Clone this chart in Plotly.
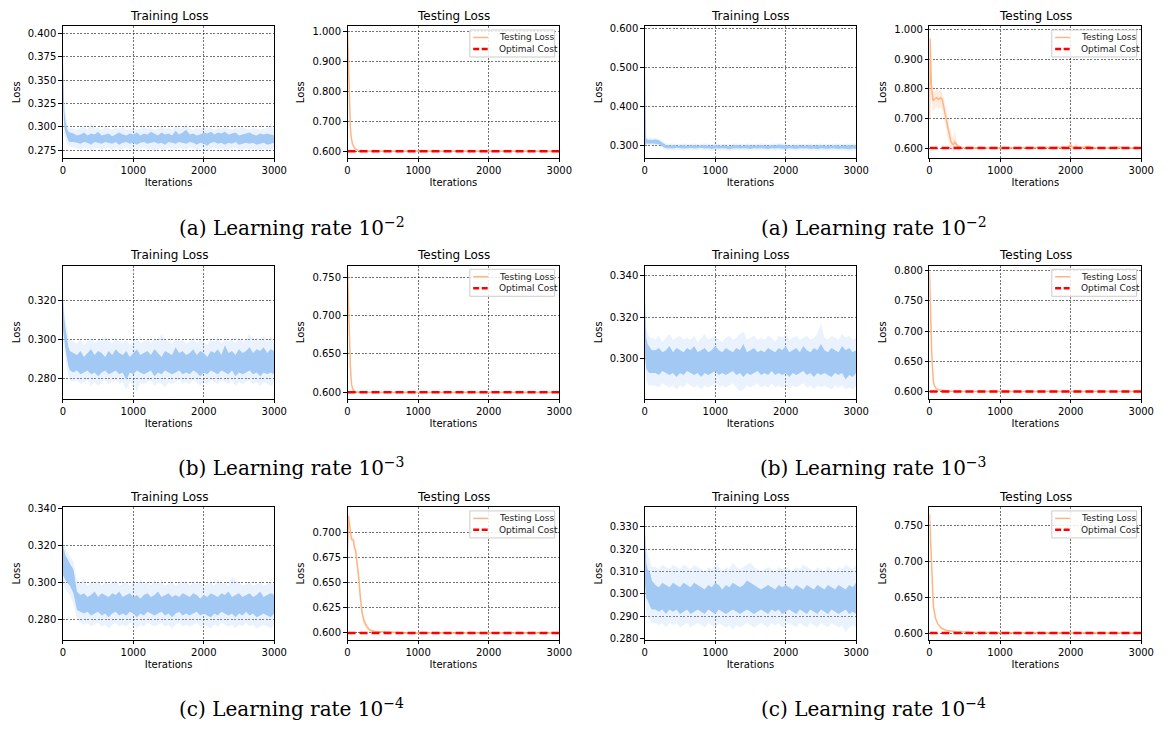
import plotly.graph_objects as go

W, H = 1171, 734

# ---------------------------------------------------------------- data
ITER_TICKS = [0, 1000, 2000, 3000]
OPTIMAL_COST = 0.6
TRAIN_ITERS = [0, 10, 20, 40, 60, 80, 100] + list(range(150, 3001, 50))

# run 1 (left column), learning rate 1e-2
R1_LR2_INNER_HI = [0.372, 0.335, 0.318, 0.305, 0.298, 0.295, 0.294,
    0.293, 0.291, 0.292, 0.294, 0.291, 0.293, 0.292, 0.295, 0.291, 0.292,
    0.293, 0.290, 0.292, 0.294, 0.292, 0.291, 0.293, 0.292, 0.294, 0.291,
    0.293, 0.292, 0.295, 0.293, 0.291, 0.294, 0.292, 0.293, 0.291, 0.296,
    0.292, 0.294, 0.297, 0.292, 0.293, 0.291, 0.292, 0.294, 0.293, 0.295,
    0.292, 0.294, 0.293, 0.295, 0.292, 0.293, 0.294, 0.291, 0.292, 0.293,
    0.294, 0.292, 0.291, 0.293, 0.292, 0.293, 0.292, 0.291]
R1_LR2_INNER_LO = [0.330, 0.310, 0.300, 0.293, 0.288, 0.285, 0.284,
    0.284, 0.283, 0.282, 0.284, 0.283, 0.281, 0.284, 0.283, 0.282, 0.284,
    0.283, 0.282, 0.284, 0.281, 0.283, 0.284, 0.282, 0.283, 0.281, 0.283,
    0.284, 0.282, 0.283, 0.284, 0.282, 0.283, 0.281, 0.284, 0.283, 0.282,
    0.284, 0.283, 0.282, 0.284, 0.283, 0.281, 0.283, 0.282, 0.280, 0.283,
    0.284, 0.282, 0.283, 0.281, 0.283, 0.282, 0.284, 0.281, 0.282, 0.283,
    0.282, 0.283, 0.281, 0.282, 0.283, 0.281, 0.282, 0.283]
R1_LR2_OUTER_HI = [0.401, 0.350, 0.328, 0.312, 0.303, 0.300, 0.299,
    0.298, 0.297, 0.299, 0.300, 0.297, 0.304, 0.298, 0.299, 0.297, 0.300,
    0.298, 0.297, 0.299, 0.298, 0.300, 0.297, 0.298, 0.299, 0.297, 0.298,
    0.300, 0.298, 0.299, 0.297, 0.298, 0.300, 0.298, 0.299, 0.297, 0.302,
    0.298, 0.299, 0.304, 0.298, 0.297, 0.299, 0.298, 0.300, 0.298, 0.299,
    0.297, 0.299, 0.298, 0.300, 0.298, 0.297, 0.299, 0.298, 0.300, 0.298,
    0.297, 0.299, 0.298, 0.297, 0.298, 0.299, 0.303, 0.298]
R1_LR2_OUTER_LO = [0.320, 0.300, 0.292, 0.287, 0.282, 0.280, 0.279,
    0.278, 0.277, 0.276, 0.278, 0.277, 0.275, 0.278, 0.277, 0.276, 0.278,
    0.277, 0.276, 0.278, 0.275, 0.277, 0.278, 0.276, 0.277, 0.275, 0.277,
    0.278, 0.276, 0.277, 0.273, 0.276, 0.277, 0.275, 0.278, 0.277, 0.276,
    0.278, 0.277, 0.276, 0.278, 0.277, 0.275, 0.277, 0.276, 0.274, 0.277,
    0.278, 0.276, 0.277, 0.275, 0.277, 0.276, 0.278, 0.275, 0.276, 0.277,
    0.276, 0.277, 0.275, 0.276, 0.277, 0.275, 0.276, 0.277]
R1_LR2_TEST_ITERS = [0, 10, 20, 30, 40, 50, 70, 100, 150, 200, 3000]
R1_LR2_TEST_LOSS = [0.996, 0.900, 0.800, 0.720, 0.680, 0.650, 0.625, 0.610, 0.603, 0.600, 0.600]

# run 2 (right column), learning rate 1e-2
R2_LR2_INNER_HI = [0.540, 0.330, 0.318, 0.316, 0.315, 0.316, 0.315,
    0.316, 0.314, 0.308, 0.302, 0.301, 0.302, 0.300, 0.301, 0.302, 0.300,
    0.301, 0.302, 0.300, 0.301, 0.302, 0.301, 0.300, 0.302, 0.301, 0.300,
    0.301, 0.299, 0.301, 0.302, 0.301, 0.300, 0.302, 0.301, 0.300, 0.301,
    0.302, 0.301, 0.300, 0.302, 0.301, 0.303, 0.302, 0.301, 0.300, 0.301,
    0.302, 0.301, 0.300, 0.301, 0.302, 0.300, 0.301, 0.302, 0.300, 0.301,
    0.300, 0.302, 0.301, 0.300, 0.301, 0.302, 0.301, 0.302]
R2_LR2_INNER_LO = [0.300, 0.305, 0.306, 0.305, 0.306, 0.305, 0.306,
    0.305, 0.304, 0.298, 0.294, 0.294, 0.293, 0.295, 0.294, 0.293, 0.294,
    0.295, 0.293, 0.294, 0.295, 0.293, 0.294, 0.292, 0.294, 0.293, 0.294,
    0.293, 0.291, 0.293, 0.294, 0.293, 0.294, 0.293, 0.292, 0.294, 0.293,
    0.294, 0.293, 0.292, 0.294, 0.293, 0.294, 0.293, 0.292, 0.294, 0.293,
    0.292, 0.294, 0.293, 0.294, 0.292, 0.293, 0.291, 0.294, 0.293, 0.292,
    0.294, 0.293, 0.292, 0.293, 0.292, 0.291, 0.293, 0.292]
R2_LR2_OUTER_HI = [0.591, 0.345, 0.322, 0.320, 0.319, 0.321, 0.319,
    0.320, 0.318, 0.312, 0.306, 0.305, 0.306, 0.304, 0.305, 0.306, 0.304,
    0.305, 0.306, 0.304, 0.305, 0.306, 0.305, 0.304, 0.306, 0.305, 0.304,
    0.305, 0.303, 0.305, 0.306, 0.305, 0.304, 0.306, 0.305, 0.304, 0.305,
    0.306, 0.305, 0.304, 0.306, 0.305, 0.307, 0.306, 0.305, 0.304, 0.305,
    0.306, 0.305, 0.304, 0.305, 0.306, 0.304, 0.305, 0.306, 0.304, 0.305,
    0.304, 0.306, 0.305, 0.304, 0.305, 0.306, 0.305, 0.306]
R2_LR2_OUTER_LO = [0.295, 0.300, 0.302, 0.301, 0.302, 0.301, 0.302,
    0.301, 0.300, 0.294, 0.290, 0.289, 0.288, 0.290, 0.289, 0.288, 0.289,
    0.290, 0.288, 0.289, 0.290, 0.288, 0.289, 0.286, 0.289, 0.288, 0.289,
    0.288, 0.286, 0.288, 0.289, 0.288, 0.289, 0.288, 0.287, 0.289, 0.288,
    0.289, 0.288, 0.287, 0.289, 0.288, 0.289, 0.288, 0.287, 0.289, 0.288,
    0.287, 0.289, 0.288, 0.289, 0.287, 0.288, 0.286, 0.289, 0.288, 0.287,
    0.289, 0.288, 0.287, 0.288, 0.287, 0.286, 0.288, 0.287]
R2_LR2_TEST_ITERS = [0, 8, 15, 25, 35, 50, 70, 100, 130, 160,
    180, 200, 220, 240, 260, 280, 300, 320, 340, 360,
    380, 400, 450, 500, 800, 1200, 1500, 1850, 1900, 1950,
    2000, 2030, 2080, 2120, 2250, 2300, 2500, 2700, 2750, 3000]
R2_LR2_TEST_LOSS = [0.700, 0.970, 0.920, 0.820, 0.780, 0.760, 0.765, 0.770, 0.765, 0.770,
    0.765, 0.740, 0.720, 0.690, 0.665, 0.640, 0.625, 0.615, 0.612, 0.620,
    0.613, 0.607, 0.602, 0.601, 0.600, 0.601, 0.600, 0.601, 0.603, 0.600,
    0.610, 0.601, 0.604, 0.600, 0.605, 0.601, 0.600, 0.603, 0.600, 0.600]
R2_LR2_TEST_HI = [0.720, 0.990, 0.960, 0.860, 0.810, 0.790, 0.790, 0.800, 0.790, 0.800,
    0.790, 0.770, 0.750, 0.720, 0.700, 0.670, 0.660, 0.640, 0.635, 0.660,
    0.625, 0.615, 0.605, 0.603, 0.601, 0.602, 0.601, 0.602, 0.608, 0.601,
    0.635, 0.603, 0.618, 0.601, 0.612, 0.602, 0.601, 0.606, 0.601, 0.601]
R2_LR2_TEST_LO = [0.680, 0.950, 0.880, 0.780, 0.740, 0.720, 0.730, 0.740, 0.730, 0.740,
    0.730, 0.710, 0.690, 0.660, 0.635, 0.615, 0.595, 0.590, 0.587, 0.590,
    0.600, 0.599, 0.599, 0.599, 0.599, 0.599, 0.599, 0.599, 0.598, 0.599,
    0.595, 0.599, 0.597, 0.599, 0.598, 0.599, 0.599, 0.599, 0.599, 0.599]

# run 1, learning rate 1e-3
R1_LR3_INNER_HI = [0.322, 0.314, 0.311, 0.305, 0.300, 0.296, 0.294,
    0.293, 0.292, 0.294, 0.291, 0.293, 0.295, 0.292, 0.294, 0.293, 0.291,
    0.294, 0.292, 0.295, 0.293, 0.292, 0.294, 0.291, 0.293, 0.295, 0.292,
    0.293, 0.294, 0.292, 0.295, 0.293, 0.291, 0.294, 0.293, 0.292, 0.296,
    0.293, 0.294, 0.292, 0.293, 0.295, 0.292, 0.294, 0.293, 0.291, 0.294,
    0.293, 0.295, 0.292, 0.297, 0.293, 0.294, 0.292, 0.295, 0.293, 0.294,
    0.296, 0.293, 0.295, 0.294, 0.296, 0.293, 0.295, 0.294]
R1_LR3_INNER_LO = [0.305, 0.303, 0.300, 0.294, 0.289, 0.286, 0.284,
    0.283, 0.284, 0.282, 0.283, 0.284, 0.282, 0.283, 0.281, 0.283, 0.284,
    0.282, 0.283, 0.284, 0.282, 0.283, 0.279, 0.283, 0.282, 0.284, 0.283,
    0.282, 0.283, 0.284, 0.281, 0.283, 0.282, 0.284, 0.283, 0.282, 0.283,
    0.284, 0.282, 0.283, 0.282, 0.284, 0.283, 0.281, 0.283, 0.282, 0.284,
    0.283, 0.282, 0.284, 0.283, 0.282, 0.284, 0.281, 0.283, 0.282, 0.283,
    0.284, 0.282, 0.283, 0.281, 0.283, 0.282, 0.283, 0.282]
R1_LR3_OUTER_HI = [0.335, 0.320, 0.315, 0.309, 0.304, 0.301, 0.300,
    0.299, 0.298, 0.300, 0.297, 0.299, 0.301, 0.298, 0.300, 0.299, 0.302,
    0.299, 0.298, 0.301, 0.299, 0.298, 0.300, 0.297, 0.299, 0.301, 0.298,
    0.299, 0.300, 0.298, 0.301, 0.299, 0.303, 0.300, 0.299, 0.298, 0.301,
    0.299, 0.300, 0.298, 0.299, 0.301, 0.298, 0.300, 0.299, 0.297, 0.300,
    0.299, 0.301, 0.298, 0.300, 0.299, 0.300, 0.298, 0.301, 0.299, 0.300,
    0.303, 0.299, 0.301, 0.300, 0.302, 0.299, 0.301, 0.300]
R1_LR3_OUTER_LO = [0.300, 0.298, 0.295, 0.289, 0.284, 0.281, 0.279,
    0.278, 0.279, 0.277, 0.278, 0.279, 0.276, 0.278, 0.276, 0.278, 0.279,
    0.277, 0.278, 0.279, 0.277, 0.278, 0.274, 0.278, 0.277, 0.273, 0.278,
    0.277, 0.278, 0.279, 0.276, 0.278, 0.277, 0.275, 0.278, 0.277, 0.278,
    0.279, 0.277, 0.278, 0.277, 0.279, 0.278, 0.276, 0.278, 0.277, 0.279,
    0.278, 0.277, 0.279, 0.278, 0.277, 0.279, 0.276, 0.278, 0.277, 0.278,
    0.279, 0.277, 0.278, 0.276, 0.278, 0.277, 0.276, 0.277]
R1_LR3_TEST_ITERS = [0, 5, 10, 15, 20, 30, 40, 50, 60, 80, 100, 150, 200, 3000]
R1_LR3_TEST_LOSS = [0.757, 0.740, 0.715, 0.690, 0.675, 0.655, 0.635, 0.618, 0.609, 0.603, 0.601, 0.6005, 0.600, 0.600]

# run 2, learning rate 1e-3
R2_LR3_INNER_HI = [0.330, 0.316, 0.310, 0.307, 0.306, 0.305, 0.304,
    0.304, 0.305, 0.303, 0.304, 0.306, 0.303, 0.305, 0.304, 0.303, 0.305,
    0.304, 0.306, 0.303, 0.304, 0.305, 0.303, 0.304, 0.306, 0.304, 0.303,
    0.305, 0.304, 0.303, 0.305, 0.304, 0.307, 0.303, 0.304, 0.305, 0.303,
    0.304, 0.303, 0.305, 0.304, 0.303, 0.305, 0.304, 0.306, 0.303, 0.304,
    0.305, 0.303, 0.306, 0.304, 0.303, 0.305, 0.304, 0.307, 0.304, 0.303,
    0.305, 0.304, 0.303, 0.306, 0.304, 0.305, 0.303, 0.304]
R2_LR3_INNER_LO = [0.303, 0.297, 0.295, 0.294, 0.293, 0.293, 0.293,
    0.293, 0.292, 0.294, 0.293, 0.292, 0.293, 0.291, 0.293, 0.292, 0.294,
    0.293, 0.292, 0.293, 0.291, 0.293, 0.292, 0.293, 0.294, 0.292, 0.293,
    0.292, 0.293, 0.294, 0.292, 0.293, 0.291, 0.293, 0.292, 0.293, 0.294,
    0.292, 0.293, 0.292, 0.294, 0.292, 0.293, 0.292, 0.293, 0.291, 0.293,
    0.292, 0.293, 0.294, 0.292, 0.293, 0.291, 0.293, 0.292, 0.293, 0.292,
    0.291, 0.293, 0.292, 0.293, 0.290, 0.292, 0.291, 0.293]
R2_LR3_OUTER_HI = [0.342, 0.322, 0.315, 0.312, 0.311, 0.310, 0.310,
    0.309, 0.311, 0.308, 0.310, 0.312, 0.309, 0.310, 0.311, 0.309, 0.310,
    0.309, 0.311, 0.308, 0.310, 0.312, 0.309, 0.310, 0.311, 0.309, 0.308,
    0.310, 0.311, 0.309, 0.310, 0.312, 0.313, 0.309, 0.310, 0.311, 0.309,
    0.310, 0.309, 0.311, 0.310, 0.308, 0.311, 0.310, 0.312, 0.309, 0.310,
    0.311, 0.309, 0.310, 0.311, 0.309, 0.310, 0.312, 0.317, 0.310, 0.309,
    0.311, 0.310, 0.309, 0.312, 0.310, 0.311, 0.309, 0.310]
R2_LR3_OUTER_LO = [0.300, 0.291, 0.289, 0.288, 0.287, 0.287, 0.287,
    0.287, 0.286, 0.288, 0.287, 0.286, 0.287, 0.285, 0.287, 0.286, 0.288,
    0.287, 0.286, 0.287, 0.285, 0.287, 0.286, 0.287, 0.288, 0.286, 0.287,
    0.286, 0.287, 0.288, 0.286, 0.284, 0.285, 0.287, 0.286, 0.287, 0.288,
    0.286, 0.287, 0.286, 0.288, 0.286, 0.287, 0.286, 0.287, 0.285, 0.287,
    0.286, 0.287, 0.288, 0.286, 0.287, 0.285, 0.287, 0.286, 0.287, 0.286,
    0.285, 0.287, 0.286, 0.287, 0.285, 0.286, 0.285, 0.287]
R2_LR3_TEST_ITERS = [0, 5, 10, 20, 30, 40, 55, 70, 95, 130, 175, 250, 400, 3000]
R2_LR3_TEST_LOSS = [0.798, 0.770, 0.740, 0.700, 0.670, 0.645, 0.617, 0.610, 0.605, 0.603, 0.602, 0.601, 0.600, 0.600]

# run 1, learning rate 1e-4
R1_LR4_INNER_HI = [0.320, 0.318, 0.316, 0.314, 0.313, 0.311, 0.310,
    0.307, 0.295, 0.293, 0.294, 0.292, 0.293, 0.295, 0.292, 0.294, 0.293,
    0.292, 0.294, 0.293, 0.295, 0.292, 0.293, 0.294, 0.292, 0.293, 0.291,
    0.293, 0.294, 0.292, 0.293, 0.295, 0.292, 0.293, 0.294, 0.292, 0.293,
    0.292, 0.294, 0.293, 0.292, 0.294, 0.293, 0.291, 0.293, 0.292, 0.294,
    0.293, 0.292, 0.294, 0.293, 0.295, 0.292, 0.293, 0.294, 0.292, 0.293,
    0.294, 0.292, 0.293, 0.295, 0.292, 0.293, 0.294, 0.293]
R1_LR4_INNER_LO = [0.304, 0.303, 0.302, 0.301, 0.300, 0.299, 0.298,
    0.294, 0.285, 0.284, 0.283, 0.284, 0.282, 0.283, 0.284, 0.282, 0.283,
    0.281, 0.283, 0.284, 0.282, 0.283, 0.282, 0.284, 0.283, 0.281, 0.283,
    0.282, 0.284, 0.283, 0.282, 0.283, 0.284, 0.282, 0.283, 0.281, 0.283,
    0.284, 0.282, 0.283, 0.282, 0.283, 0.284, 0.282, 0.283, 0.282, 0.281,
    0.283, 0.282, 0.284, 0.283, 0.282, 0.283, 0.281, 0.283, 0.282, 0.284,
    0.282, 0.283, 0.281, 0.282, 0.283, 0.282, 0.281, 0.283]
R1_LR4_OUTER_HI = [0.337, 0.322, 0.320, 0.318, 0.317, 0.315, 0.314,
    0.311, 0.301, 0.299, 0.302, 0.298, 0.300, 0.299, 0.301, 0.298, 0.300,
    0.299, 0.300, 0.301, 0.298, 0.299, 0.300, 0.298, 0.300, 0.299, 0.301,
    0.299, 0.300, 0.298, 0.301, 0.299, 0.300, 0.298, 0.299, 0.300, 0.298,
    0.300, 0.299, 0.301, 0.298, 0.300, 0.299, 0.300, 0.298, 0.299, 0.300,
    0.298, 0.301, 0.299, 0.300, 0.298, 0.303, 0.301, 0.300, 0.298, 0.299,
    0.300, 0.298, 0.299, 0.300, 0.298, 0.299, 0.300, 0.299]
R1_LR4_OUTER_LO = [0.300, 0.298, 0.297, 0.296, 0.295, 0.294, 0.293,
    0.288, 0.280, 0.278, 0.277, 0.278, 0.276, 0.277, 0.278, 0.276, 0.277,
    0.275, 0.277, 0.278, 0.276, 0.277, 0.276, 0.278, 0.277, 0.275, 0.277,
    0.276, 0.278, 0.277, 0.276, 0.277, 0.278, 0.276, 0.277, 0.275, 0.277,
    0.278, 0.276, 0.277, 0.276, 0.277, 0.278, 0.276, 0.277, 0.276, 0.275,
    0.277, 0.276, 0.278, 0.277, 0.276, 0.277, 0.275, 0.277, 0.276, 0.278,
    0.276, 0.277, 0.275, 0.276, 0.277, 0.276, 0.275, 0.277]
R1_LR4_TEST_ITERS = [0, 8, 14, 23, 37, 56, 84, 98, 112, 131, 159, 182, 206, 234, 266, 313, 383, 570, 710, 800, 3000]
R1_LR4_TEST_LOSS = [0.681, 0.705, 0.716, 0.710, 0.700, 0.693, 0.692, 0.684, 0.683, 0.672, 0.655,
    0.635, 0.620, 0.612, 0.607, 0.603, 0.6015, 0.601, 0.6008, 0.600, 0.600]
R1_LR4_TEST_HI = [0.684, 0.712, 0.7185, 0.713, 0.703, 0.696, 0.695, 0.688, 0.687, 0.677, 0.660,
    0.640, 0.625, 0.616, 0.610, 0.605, 0.6025, 0.6015, 0.601, 0.6003, 0.6003]
R1_LR4_TEST_LO = [0.678, 0.698, 0.713, 0.707, 0.697, 0.690, 0.689, 0.680, 0.679, 0.667, 0.650,
    0.630, 0.615, 0.608, 0.604, 0.601, 0.6005, 0.6005, 0.6003, 0.5998, 0.5998]

# run 2, learning rate 1e-4
R2_LR4_INNER_HI = [0.330, 0.318, 0.314, 0.311, 0.310, 0.309, 0.306,
    0.304, 0.303, 0.305, 0.304, 0.303, 0.305, 0.304, 0.303, 0.305, 0.304,
    0.303, 0.305, 0.304, 0.303, 0.302, 0.304, 0.303, 0.305, 0.304, 0.302,
    0.304, 0.303, 0.305, 0.304, 0.303, 0.304, 0.306, 0.305, 0.304, 0.303,
    0.302, 0.303, 0.304, 0.303, 0.302, 0.304, 0.303, 0.304, 0.303, 0.302,
    0.304, 0.303, 0.302, 0.304, 0.303, 0.302, 0.304, 0.303, 0.302, 0.304,
    0.303, 0.302, 0.304, 0.303, 0.302, 0.304, 0.303, 0.305]
R2_LR4_INNER_LO = [0.305, 0.300, 0.298, 0.297, 0.295, 0.294, 0.293,
    0.293, 0.292, 0.293, 0.291, 0.293, 0.292, 0.293, 0.291, 0.292, 0.293,
    0.291, 0.292, 0.293, 0.292, 0.291, 0.293, 0.292, 0.291, 0.293, 0.292,
    0.291, 0.292, 0.293, 0.292, 0.291, 0.292, 0.293, 0.292, 0.291, 0.292,
    0.293, 0.292, 0.291, 0.293, 0.292, 0.293, 0.291, 0.292, 0.293, 0.292,
    0.291, 0.293, 0.292, 0.291, 0.293, 0.292, 0.291, 0.293, 0.292, 0.291,
    0.293, 0.292, 0.291, 0.292, 0.293, 0.291, 0.292, 0.291]
R2_LR4_OUTER_HI = [0.336, 0.325, 0.321, 0.318, 0.316, 0.313, 0.312,
    0.312, 0.311, 0.313, 0.312, 0.311, 0.313, 0.312, 0.311, 0.313, 0.312,
    0.311, 0.313, 0.312, 0.311, 0.310, 0.312, 0.311, 0.313, 0.312, 0.310,
    0.312, 0.311, 0.314, 0.312, 0.311, 0.312, 0.313, 0.314, 0.312, 0.311,
    0.310, 0.311, 0.312, 0.311, 0.310, 0.312, 0.311, 0.312, 0.311, 0.310,
    0.312, 0.311, 0.313, 0.312, 0.311, 0.310, 0.312, 0.311, 0.310, 0.312,
    0.311, 0.310, 0.312, 0.311, 0.313, 0.312, 0.311, 0.313]
R2_LR4_OUTER_LO = [0.300, 0.293, 0.291, 0.290, 0.289, 0.288, 0.287,
    0.287, 0.286, 0.287, 0.285, 0.287, 0.286, 0.287, 0.285, 0.286, 0.287,
    0.285, 0.286, 0.287, 0.286, 0.285, 0.287, 0.286, 0.285, 0.287, 0.286,
    0.285, 0.286, 0.284, 0.286, 0.285, 0.286, 0.287, 0.286, 0.285, 0.286,
    0.287, 0.286, 0.285, 0.287, 0.286, 0.287, 0.285, 0.286, 0.287, 0.286,
    0.285, 0.287, 0.286, 0.285, 0.287, 0.286, 0.285, 0.287, 0.286, 0.285,
    0.287, 0.286, 0.285, 0.286, 0.283, 0.285, 0.286, 0.285]
R2_LR4_TEST_ITERS = [0, 5, 10, 23, 37, 56, 84, 117, 164, 234, 374, 560, 1028, 3000]
R2_LR4_TEST_LOSS = [0.766, 0.755, 0.745, 0.710, 0.664, 0.637, 0.621, 0.613, 0.607, 0.604, 0.602, 0.601, 0.6005, 0.600]

CAPTIONS = ["(a) Learning rate 10<sup>−2</sup>",
            "(b) Learning rate 10<sup>−3</sup>",
            "(c) Learning rate 10<sup>−4</sup>"]
LEGEND_LABELS = ["Testing Loss", "Optimal Cost"]

# ---------------------------------------------------------------- styling
BLUE = "#a1c9f4"
BLUE_LIGHT = "rgba(161,201,244,0.22)"
ORANGE = "#ffb482"
ORANGE_LIGHT = "rgba(255,180,130,0.25)"
SANS = "DejaVu Sans"
SERIF = "DejaVu Serif"

COLS = [(60.7, 275.0), (349.3, 564.0), (650.7, 865.0), (939.3, 1154.0)]
ROWS = [(21.7, 155.0), (264.3, 399.3), (509.3, 643.3)]
CAPTION_Y = [225, 468, 713]
CAPTION_X = [292.5, 883.0]

# per row: (run-1 train, run-1 test, run-2 train, run-2 test)
PANELS = [
    [dict(kind="train", band=(R1_LR2_OUTER_LO, R1_LR2_OUTER_HI), core=(R1_LR2_INNER_LO, R1_LR2_INNER_HI),
          yr=(0.2669, 0.4077), dt=0.025),
     dict(kind="test", x=R1_LR2_TEST_ITERS, y=R1_LR2_TEST_LOSS, band=None, yr=(0.578, 1.016), dt=0.1),
     dict(kind="train", band=(R2_LR2_OUTER_LO, R2_LR2_OUTER_HI), core=(R2_LR2_INNER_LO, R2_LR2_INNER_HI),
          yr=(0.269, 0.606), dt=0.1),
     dict(kind="test", x=R2_LR2_TEST_ITERS, y=R2_LR2_TEST_LOSS, band=(R2_LR2_TEST_LO, R2_LR2_TEST_HI),
          yr=(0.567, 1.011), dt=0.1)],
    [dict(kind="train", band=(R1_LR3_OUTER_LO, R1_LR3_OUTER_HI), core=(R1_LR3_INNER_LO, R1_LR3_INNER_HI),
          yr=(0.2693, 0.3382), dt=0.02),
     dict(kind="test", x=R1_LR3_TEST_ITERS, y=R1_LR3_TEST_LOSS, band=None, yr=(0.5915, 0.765), dt=0.05),
     dict(kind="train", band=(R2_LR3_OUTER_LO, R2_LR3_OUTER_HI), core=(R2_LR3_INNER_LO, R2_LR3_INNER_HI),
          yr=(0.2805, 0.3448), dt=0.02),
     dict(kind="test", x=R2_LR3_TEST_ITERS, y=R2_LR3_TEST_LOSS, band=None, yr=(0.588, 0.808), dt=0.05)],
    [dict(kind="train", band=(R1_LR4_OUTER_LO, R1_LR4_OUTER_HI), core=(R1_LR4_INNER_LO, R1_LR4_INNER_HI),
          yr=(0.269, 0.3404), dt=0.02),
     dict(kind="test", x=R1_LR4_TEST_ITERS, y=R1_LR4_TEST_LOSS, band=(R1_LR4_TEST_LO, R1_LR4_TEST_HI),
          yr=(0.5935, 0.7244), dt=0.025),
     dict(kind="train", band=(R2_LR4_OUTER_LO, R2_LR4_OUTER_HI), core=(R2_LR4_INNER_LO, R2_LR4_INNER_HI),
          yr=(0.2796, 0.3387), dt=0.01),
     dict(kind="test", x=R2_LR4_TEST_ITERS, y=R2_LR4_TEST_LOSS, band=None, yr=(0.591, 0.775), dt=0.05)],
]

fig = go.Figure()
layout = dict(width=W, height=H, margin=dict(l=0, r=0, t=0, b=0),
              paper_bgcolor="white", plot_bgcolor="white", showlegend=False,
              font=dict(family=SANS, color="black"), annotations=[], shapes=[])


def px(x):
    return x / W


def py(y):
    return 1 - y / H


def fill_between(xa, ya, x, lo, hi, color):
    fig.add_trace(go.Scatter(x=x, y=lo, xaxis=xa, yaxis=ya, mode="lines",
                             line=dict(width=0, color=color), showlegend=False, hoverinfo="skip"))
    fig.add_trace(go.Scatter(x=x, y=hi, xaxis=xa, yaxis=ya, mode="lines",
                             line=dict(width=0, color=color), fill="tonexty", fillcolor=color,
                             showlegend=False, hoverinfo="skip"))


def add_text(x, y, text, size, family=SANS, xanchor="center", color="black"):
    layout["annotations"].append(dict(
        x=px(x), y=py(y), xref="paper", yref="paper", text=text, showarrow=False,
        xanchor=xanchor, yanchor="middle",
        font=dict(family=family, size=size, color=color)))


def add_legend(right, top):
    # framed key in the upper right corner of a testing-loss panel
    layout["shapes"].append(dict(type="rect", xref="paper", yref="paper",
                                 x0=px(right - 90.7), x1=px(right - 4.7),
                                 y0=py(top + 31.0), y1=py(top + 3.6),
                                 fillcolor="rgba(255,255,255,0.85)",
                                 line=dict(color="#cccccc", width=1), layer="above"))
    styles = [dict(color=ORANGE, width=1.5), dict(color="red", width=2.5, dash="6px,2.5px")]
    for i, (label, st) in enumerate(zip(LEGEND_LABELS, styles)):
        yy = top + 11.2 + i * 11.6
        layout["shapes"].append(dict(type="line", xref="paper", yref="paper",
                                     x0=px(right - 87.3), x1=px(right - 72.3),
                                     y0=py(yy), y1=py(yy), line=st, layer="above"))
        add_text(right - 63.5, yy, label, 9, xanchor="left", color="#222")


n = 0
for r, row in enumerate(PANELS):
    top, bottom = ROWS[r]
    for c, p in enumerate(row):
        n += 1
        left, right = COLS[c]
        xa, ya = f"x{n}", f"y{n}"
        axis_common = dict(showline=True, mirror=True, linecolor="black", linewidth=1,
                           ticks="outside", ticklen=3.5, tickwidth=0.8, tickcolor="black",
                           showgrid=True, gridcolor="rgba(0,0,0,0.55)", gridwidth=0.7,
                           griddash="2px,1.5px", zeroline=False,
                           tickfont=dict(family=SANS, size=10, color="black"))
        layout[f"xaxis{n}"] = dict(axis_common, domain=[px(left), px(right)], anchor=ya,
                                   range=[0, 3000], tickvals=ITER_TICKS,
                                   title=dict(text="Iterations", standoff=3,
                                              font=dict(family=SANS, size=10, color="black")))
        layout[f"yaxis{n}"] = dict(axis_common, domain=[py(bottom), py(top)], anchor=xa,
                                   range=list(p["yr"]), tick0=0, dtick=p["dt"], tickformat=".3f",
                                   title=dict(text="Loss", standoff=5,
                                              font=dict(family=SANS, size=10, color="black")))

        if p["kind"] == "train":
            fill_between(xa, ya, TRAIN_ITERS, p["band"][0], p["band"][1], BLUE_LIGHT)
            fill_between(xa, ya, TRAIN_ITERS, p["core"][0], p["core"][1], BLUE)
            title = "Training Loss"
        else:
            if p["band"] is not None:
                fill_between(xa, ya, p["x"], p["band"][0], p["band"][1], ORANGE_LIGHT)
            fig.add_trace(go.Scatter(x=p["x"], y=p["y"], xaxis=xa, yaxis=ya, mode="lines",
                                     name="Testing Loss", line=dict(color=ORANGE, width=1.5)))
            fig.add_trace(go.Scatter(x=[0, 3000], y=[OPTIMAL_COST, OPTIMAL_COST], xaxis=xa, yaxis=ya,
                                     mode="lines", name="Optimal Cost",
                                     line=dict(color="red", width=2.5, dash="8px,4px")))
            add_legend(right, top)
            title = "Testing Loss"

        add_text((left + right) / 2, top - 10.5, title, 12)

    for k in range(2):
        add_text(CAPTION_X[k], CAPTION_Y[r], CAPTIONS[r], 20, family=SERIF)

fig.update_layout(**layout)
fig.write_html("out.html")
